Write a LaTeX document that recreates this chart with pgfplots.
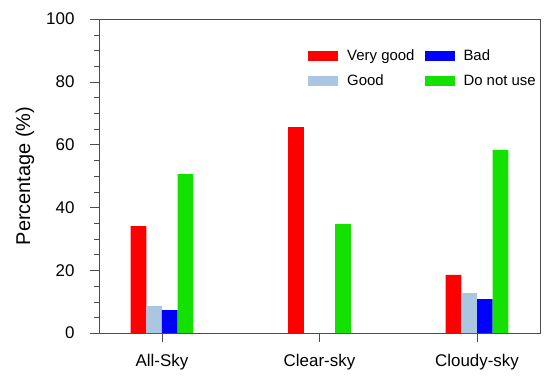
\documentclass[border=0pt]{standalone}
\usepackage{pgfplots}
\pgfplotsset{compat=1.18}
\usepackage{fontspec}
\setmainfont{Liberation Sans}
\definecolor{cVG}{RGB}{255,0,0}
\definecolor{cG}{RGB}{170,198,225}
\definecolor{cB}{RGB}{0,0,255}
\definecolor{cD}{RGB}{20,225,0}
\begin{document}
\begin{tikzpicture}
\begin{axis}[
  scale only axis,
  width=441bp, height=314bp,
  xmin=-0.4, xmax=2.4, ymin=0, ymax=100,
  ybar=0pt, bar width=15.7bp,
  xtick={0,1,2}, xticklabels={All-Sky,Clear-sky,Cloudy-sky},
  ytick={0,20,40,60,80,100},
  minor y tick num=3,
  tick align=outside,
  major tick length=9bp, minor tick length=4.5bp,
  xtick style={black!70}, ytick style={black!70},
  axis line style={black!70, line width=0.6pt},
  xtick pos=bottom, ytick pos=left,
  /pgf/number format/assume math mode=true,
  ticklabel style={font=\fontsize{17}{20}\selectfont},
  yticklabel style={xshift=-12bp},
  xticklabel style={yshift=-9bp},
  ylabel={Percentage (\%)},
  ylabel style={font=\fontsize{20}{24}\selectfont, at={(axis description cs:-0.168,0.5)}, anchor=center, rotate=0},
  legend columns=2, transpose legend,
  legend style={draw=none, fill=none, at={(axis description cs:0.474,0.91)}, anchor=north west, inner sep=0pt,
    font=\fontsize{15}{18}\selectfont, row sep=9bp,
    /tikz/every even column/.append style={column sep=8bp}},
  legend cell align=left,
  legend image code/.code={\fill[#1] (0bp,-5bp) rectangle (30bp,5bp); \path (37bp,0bp);},
]
\addplot[fill=cVG, draw=none] coordinates {(0,34.0) (1,65.6) (2,18.5)};
\addplot[fill=cG, draw=none] coordinates {(0,8.6) (2,12.7)};
\addplot[fill=cB, draw=none] coordinates {(0,7.3) (2,10.8)};
\addplot[fill=cD, draw=none] coordinates {(0,50.6) (1,34.7) (2,58.3)};
\legend{Very good, Good, Bad, Do not use}
\end{axis}
\pgfresetboundingbox
\path ([shift={(-99bp,-49bp)}]current axis.south west) rectangle ([shift={(10bp,19bp)}]current axis.north east);
\end{tikzpicture}
\end{document}
